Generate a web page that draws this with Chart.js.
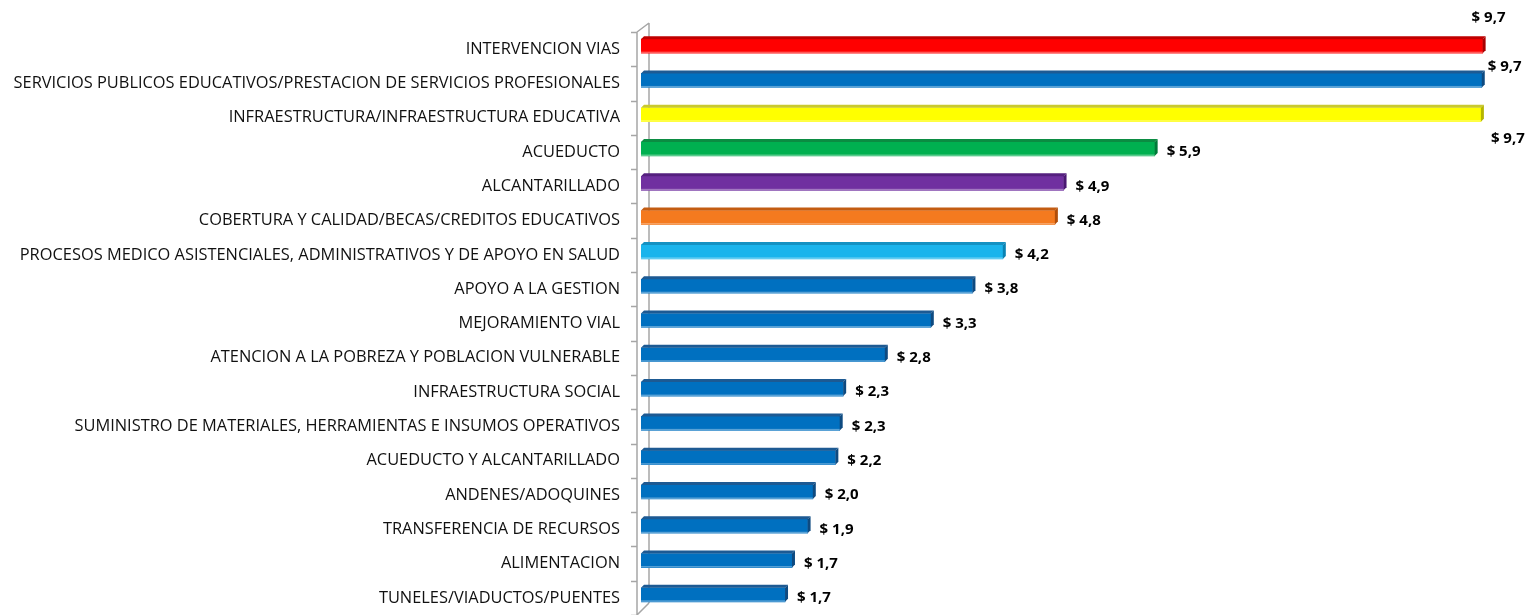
<!DOCTYPE html>
<html>
<head>
<meta charset="utf-8">
<script src="https://cdn.jsdelivr.net/npm/chart.js@4.4.1/dist/chart.umd.min.js"></script>
<style>
  html, body { margin: 0; padding: 0; background: #ffffff; }
  canvas { display: block; }
</style>
</head>
<body>
<canvas id="c" width="1526" height="615"></canvas>
<script>
// ---- data ----
const categories = [
  "INTERVENCION VIAS",
  "SERVICIOS PUBLICOS EDUCATIVOS/PRESTACION DE SERVICIOS PROFESIONALES",
  "INFRAESTRUCTURA/INFRAESTRUCTURA EDUCATIVA",
  "ACUEDUCTO",
  "ALCANTARILLADO",
  "COBERTURA Y CALIDAD/BECAS/CREDITOS EDUCATIVOS",
  "PROCESOS MEDICO ASISTENCIALES, ADMINISTRATIVOS Y DE APOYO EN SALUD",
  "APOYO A LA GESTION",
  "MEJORAMIENTO VIAL",
  "ATENCION A LA POBREZA Y POBLACION VULNERABLE",
  "INFRAESTRUCTURA SOCIAL",
  "SUMINISTRO DE MATERIALES, HERRAMIENTAS E INSUMOS OPERATIVOS",
  "ACUEDUCTO Y ALCANTARILLADO",
  "ANDENES/ADOQUINES",
  "TRANSFERENCIA DE RECURSOS",
  "ALIMENTACION",
  "TUNELES/VIADUCTOS/PUENTES"
];
const values = [9.70, 9.69, 9.68, 5.92, 4.87, 4.77, 4.17, 3.82, 3.34, 2.81, 2.33, 2.29, 2.24, 1.98, 1.92, 1.74, 1.66];

// ---- styles ----
const faceColors = ["#FF0000","#0070C0","#FFFF00","#00B050","#7030A0","#F47A1F","#1AB4EC",
  "#0070C0","#0070C0","#0070C0","#0070C0","#0070C0","#0070C0","#0070C0","#0070C0","#0070C0","#0070C0"];
const topColors = ["#C00000","#1D5A93","#C9C92E","#0B8C42","#55207F","#C35C12","#1491C2",
  "#1D5A93","#1D5A93","#1D5A93","#1D5A93","#1D5A93","#1D5A93","#1D5A93","#1D5A93","#1D5A93","#1D5A93"];
const sideColors = ["#A80000","#0E4A80","#B5B500","#007A38","#4A1872","#B04E0A","#0A82B2",
  "#0E4A80","#0E4A80","#0E4A80","#0E4A80","#0E4A80","#0E4A80","#0E4A80","#0E4A80","#0E4A80","#0E4A80"];
// special label offsets (dx from bar end, dy from band centre) for the first three bars
const labelOffsets = { 0: [-11, -31], 1: [6, -17], 2: [10, 21] };

const AXIS_SHIFT_Y = 3;
const DEPTH = 3;
const axisColor = "#A6A6A6";
const LABEL_FAMILY = "'Open Sans', 'Noto Sans', sans-serif";

const axis3d = {
  id: 'axis3d',
  beforeDatasetsDraw(chart) {
    const ctx = chart.ctx;
    const ca = chart.chartArea;
    const n = categories.length;
    const top = ca.top + AXIS_SHIFT_Y;
    const bottom = ca.bottom + AXIS_SHIFT_Y;
    const band = (bottom - top) / n;
    const fx = ca.left - 4, bx = ca.left + 8;
    ctx.save();
    ctx.strokeStyle = axisColor;
    ctx.lineWidth = 1.5;
    ctx.beginPath();
    ctx.moveTo(fx, top); ctx.lineTo(fx, bottom + 5);
    ctx.moveTo(bx, top - 9); ctx.lineTo(bx, bottom - 12);
    ctx.moveTo(fx, top); ctx.lineTo(bx, top - 9);
    ctx.moveTo(fx, bottom); ctx.lineTo(bx, bottom - 12);
    for (let i = 0; i <= n; i++) {
      const y = Math.round(top + i * band) + 0.5;
      ctx.moveTo(fx - 6, y); ctx.lineTo(fx, y);
    }
    ctx.stroke();
    ctx.restore();
  },
  afterDatasetsDraw(chart) {
    const ctx = chart.ctx;
    const meta = chart.getDatasetMeta(0);
    ctx.save();
    meta.data.forEach((el, i) => {
      const p = el.getProps(['x', 'y', 'base', 'height'], true);
      const t = p.y - p.height / 2, b = p.y + p.height / 2;
      ctx.fillStyle = topColors[i];
      ctx.beginPath();
      ctx.moveTo(p.base, t);
      ctx.lineTo(p.x, t);
      ctx.lineTo(p.x + DEPTH, t - DEPTH);
      ctx.lineTo(p.base + DEPTH, t - DEPTH);
      ctx.closePath();
      ctx.fill();
      ctx.fillStyle = sideColors[i];
      ctx.beginPath();
      ctx.moveTo(p.x, t);
      ctx.lineTo(p.x + DEPTH, t - DEPTH);
      ctx.lineTo(p.x + DEPTH, b - DEPTH);
      ctx.lineTo(p.x, b);
      ctx.closePath();
      ctx.fill();
      ctx.fillStyle = "rgba(255,255,255,0.35)";
      ctx.fillRect(p.base, b - 1.5, p.x - p.base, 1.5);

      const txt = "$ " + values[i].toFixed(1).replace('.', ',');
      const off = labelOffsets[i] || [12, 0];
      ctx.font = "bold 15px " + LABEL_FAMILY;
      ctx.fillStyle = "#000000";
      ctx.textAlign = "left";
      ctx.textBaseline = "middle";
      ctx.fillText(txt, p.x + off[0], p.y + AXIS_SHIFT_Y + off[1]);
    });
    ctx.restore();
  }
};

new Chart(document.getElementById('c'), {
  type: 'bar',
  data: {
    labels: categories,
    datasets: [{
      data: values,
      backgroundColor: faceColors,
      borderWidth: 0,
      barThickness: 14
    }]
  },
  options: {
    indexAxis: 'y',
    responsive: false,
    animation: false,
    layout: { padding: { top: 29, bottom: 3, left: 0, right: 0 } },
    plugins: { legend: { display: false }, tooltip: { enabled: false } },
    scales: {
      x: { display: false, min: 0, max: 10.2 },
      y: {
        grid: { display: false, drawTicks: false },
        border: { display: false },
        afterFit(scale) { scale.width = 641; scale.paddingTop = 0; scale.paddingBottom = 0; },
        ticks: {
          padding: 21,
          labelOffset: 3,
          color: "#111111",
          font: { family: LABEL_FAMILY, size: 16.4 }
        }
      }
    }
  },
  plugins: [axis3d]
});
</script>
</body>
</html>
